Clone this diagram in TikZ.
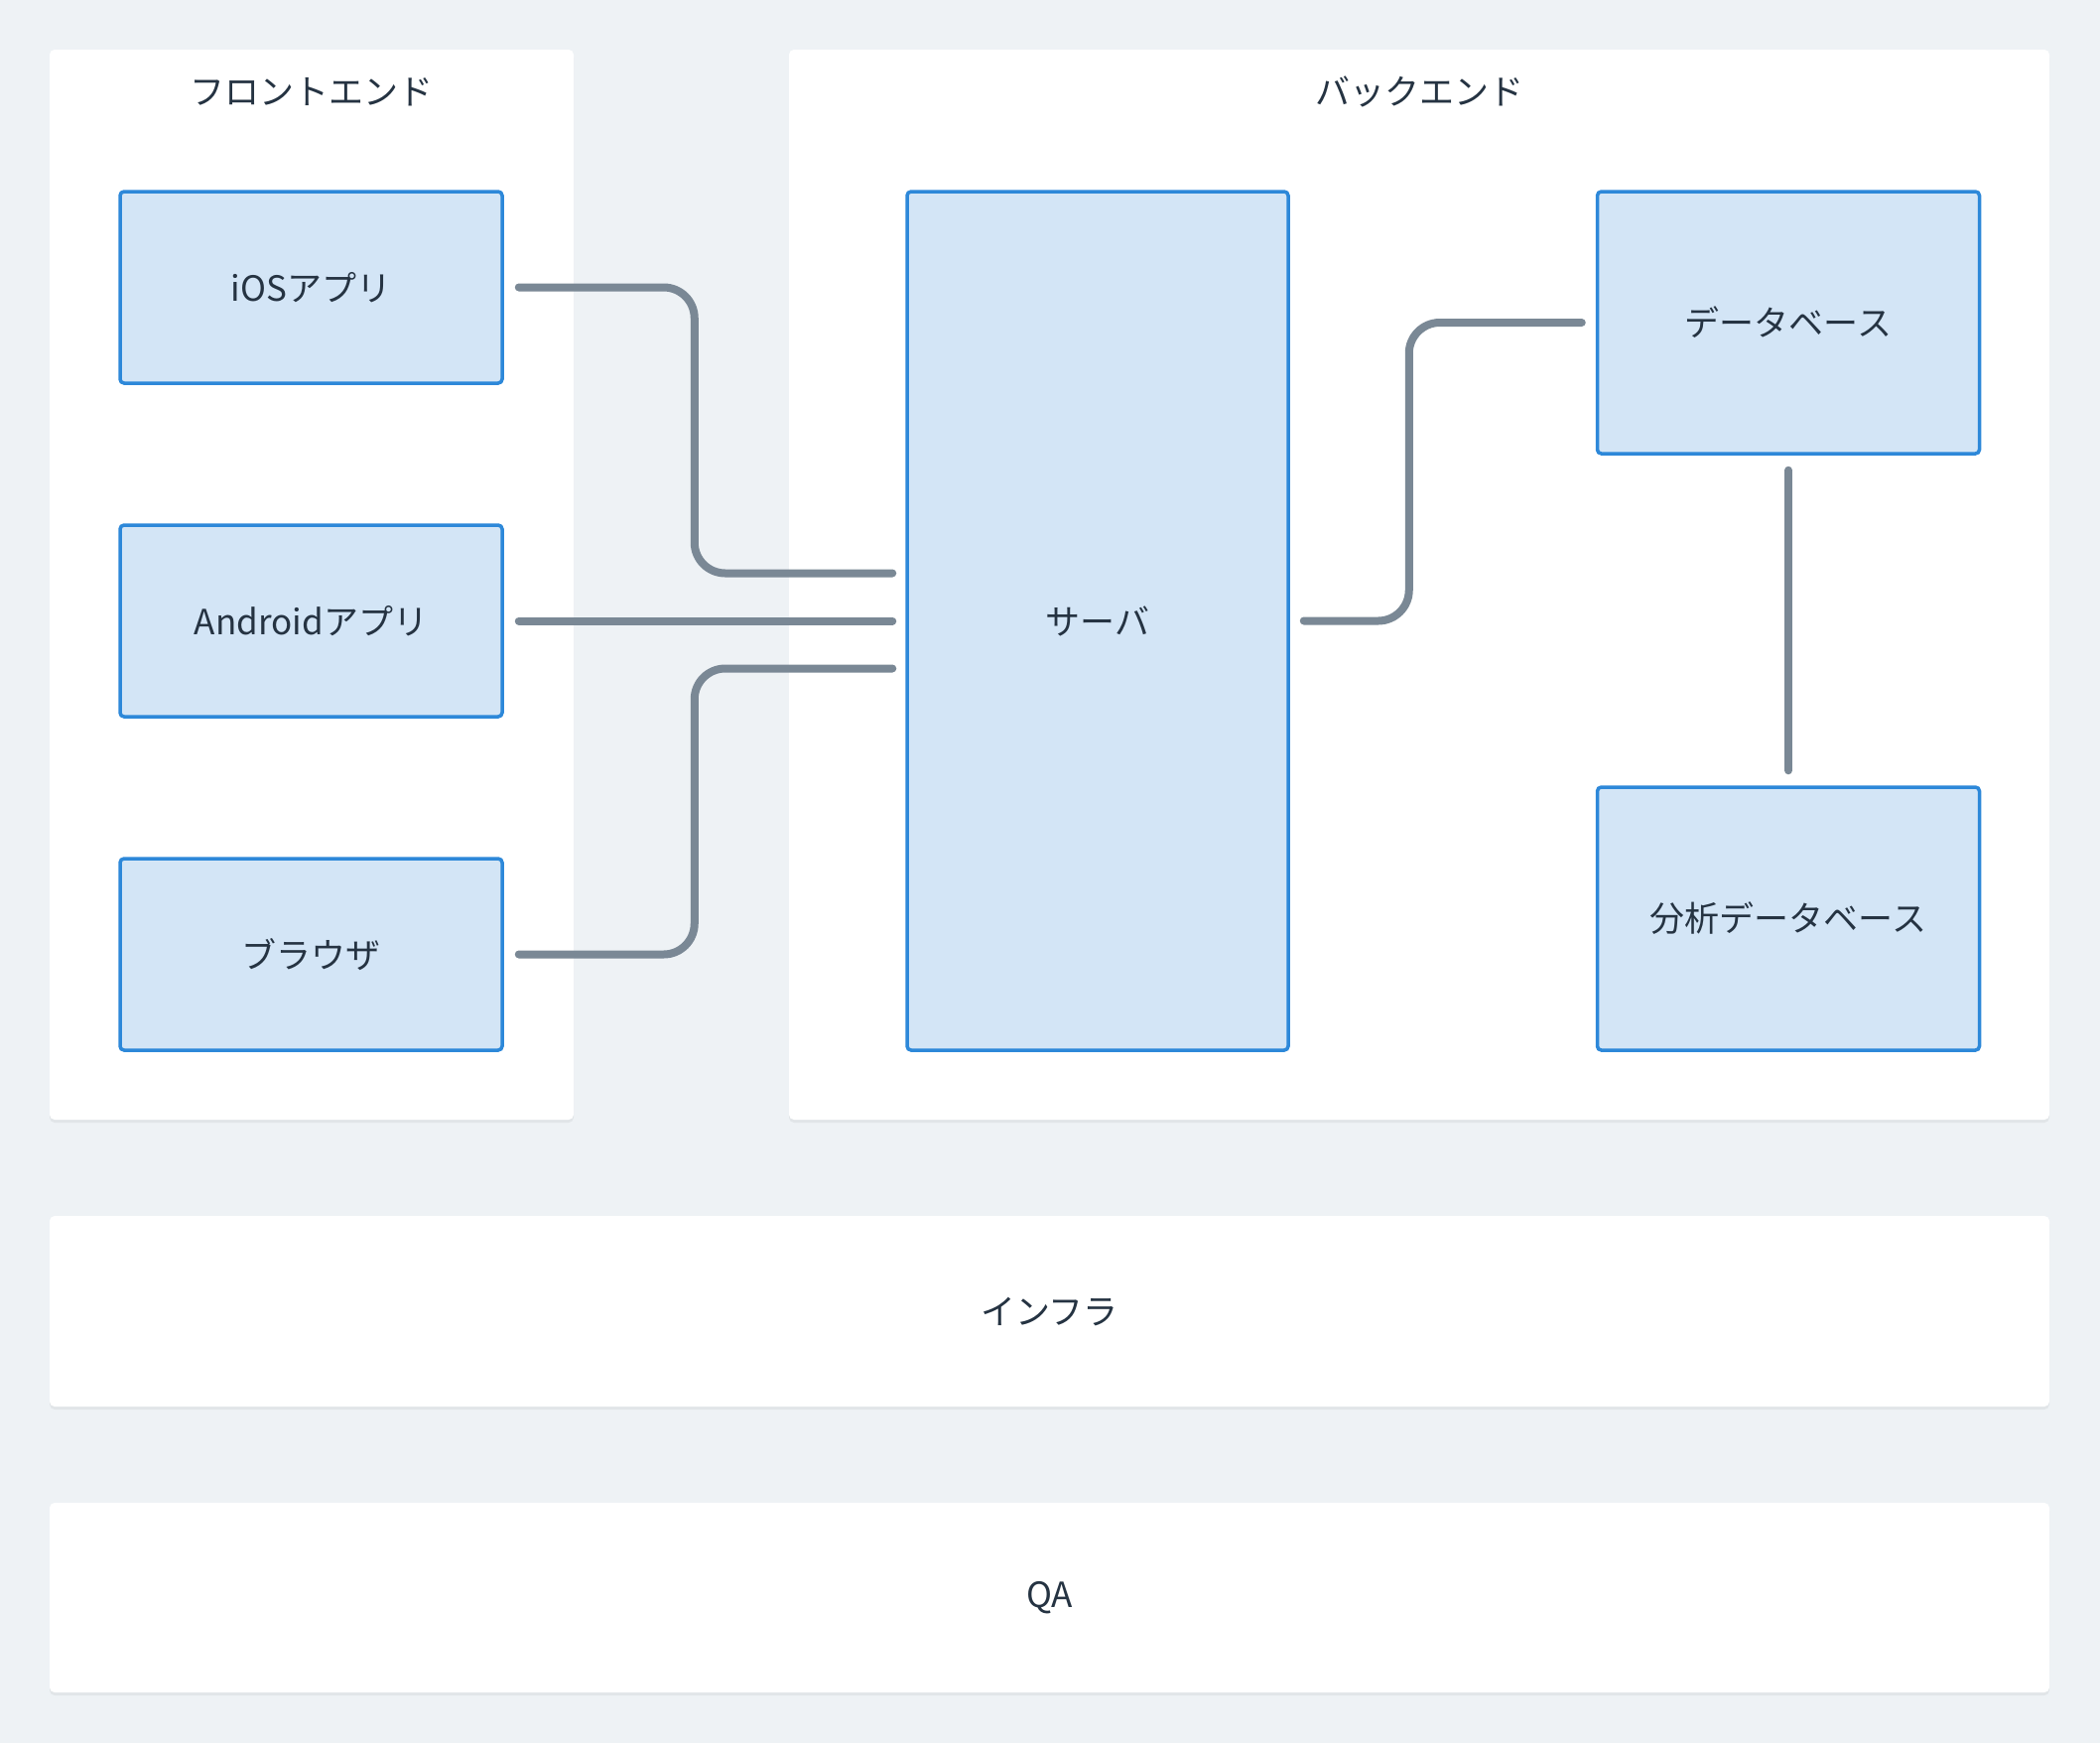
\documentclass[tikz,border=0pt]{standalone}
\usepackage{fontspec}
\setmainfont{Noto Sans CJK JP}
\usetikzlibrary{shadows}
\definecolor{bgc}{HTML}{EEF2F5}
\definecolor{boxfill}{HTML}{D3E5F6}
\definecolor{boxline}{HTML}{2D88D9}
\definecolor{connc}{HTML}{7A8895}
\definecolor{txtc}{HTML}{253342}
\tikzset{
  panel/.style={draw=none, fill=white, rounded corners=5pt, inner sep=0pt,
    drop shadow={shadow xshift=0pt, shadow yshift=-3pt, opacity=0.05, fill=black}},
  compbox/.style={draw=boxline, fill=boxfill, line width=3.5pt, rounded corners=4pt,
    inner sep=0pt, minimum width=385pt, text=txtc, font=\fontsize{35}{42}\selectfont},
  ttl/.style={text=txtc, font=\fontsize{35}{42}\selectfont, inner sep=0pt},
  conn/.style={draw=connc, line width=8pt, line cap=round, rounded corners=31pt}
}
\begin{document}
\begin{tikzpicture}[x=1pt, y=-1pt]
\fill[bgc] (0,0) rectangle (2116,1756);
\useasboundingbox (0,0) rectangle (2116,1756);
% panels
\node[panel, minimum width=528pt, minimum height=1078pt] (front) at (314,589) {};
\node[panel, minimum width=1270pt, minimum height=1078pt] (back) at (1430,589) {};
\node[panel, minimum width=2015pt, minimum height=192pt, text=txtc, font=\fontsize{35}{42}\selectfont] (infra) at (1057.5,1321) {インフラ};
\node[panel, minimum width=2015pt, minimum height=191pt, text=txtc, font=\fontsize{35}{42}\selectfont] (qa) at (1057.5,1609.5) {QA};
\node[ttl] (fronttitle) at ([yshift=-43pt]front.north) {フロントエンド};
\node[ttl] (backtitle) at ([yshift=-43pt]back.north) {バックエンド};
% components
\node[compbox, minimum height=193pt] (ios) at (313.5,289.5) {iOSアプリ};
\node[compbox, minimum height=193pt] (android) at (313.5,625.5) {Androidアプリ};
\node[compbox, minimum height=193pt] (browser) at (313.5,961.5) {ブラウザ};
\node[compbox, minimum width=384pt, minimum height=865pt] (server) at (1106,625.5) {サーバ};
\node[compbox, minimum height=264pt] (db) at (1802,325) {データベース};
\node[compbox, minimum height=265pt] (ana) at (1802,925.5) {分析データベース};
% connectors
\draw[conn] ([xshift=15pt]ios.east) -- ++(177,0) |- ([xshift=-13pt,yshift=48pt]server.west);
\draw[conn] ([xshift=15pt]android.east) -- ([xshift=-13pt]server.west);
\draw[conn] ([xshift=15pt]browser.east) -- ++(177,0) |- ([xshift=-13pt,yshift=-48pt]server.west);
\draw[conn] ([xshift=14pt]server.east) -- ++(106,0) |- ([xshift=-14pt]db.west);
\draw[conn] ([yshift=-15pt]db.south) -- ([yshift=15pt]ana.north);
\end{tikzpicture}
\end{document}
